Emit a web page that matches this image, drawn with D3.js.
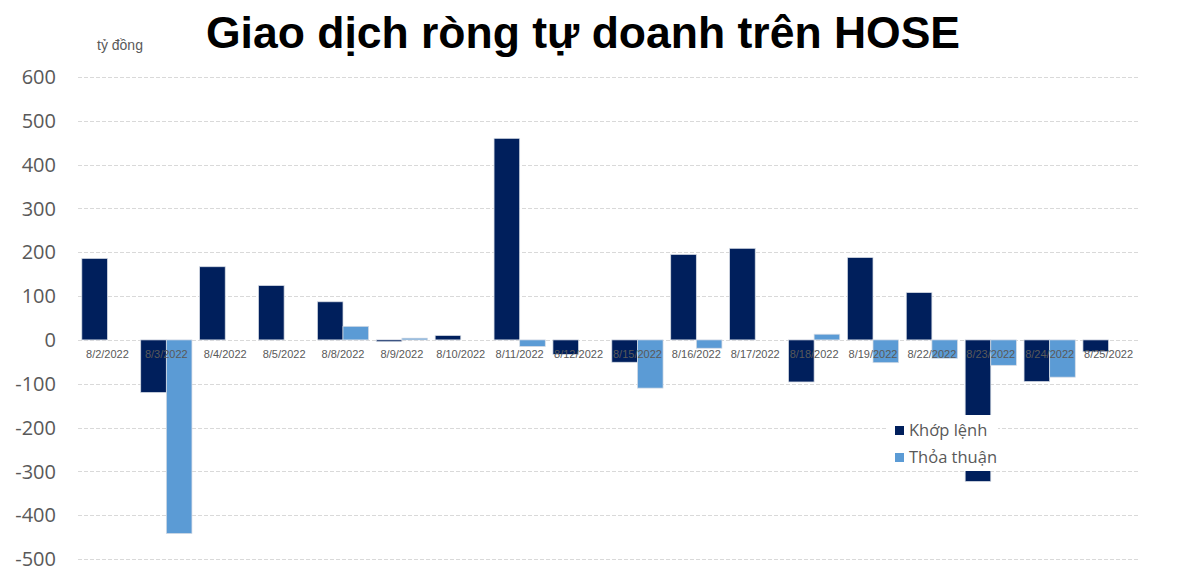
<!DOCTYPE html>
<html>
<head>
<meta charset="utf-8">
<script src="https://cdn.jsdelivr.net/npm/d3@7"></script>
<style>
  body { margin: 0; background: #fff; }
  svg { display: block; font-family: "Liberation Sans", Arial, sans-serif; }
</style>
</head>
<body>
<div id="chart"></div>
<script>
// data
const dates = ["8/2/2022", "8/3/2022", "8/4/2022", "8/5/2022", "8/8/2022", "8/9/2022",
  "8/10/2022", "8/11/2022", "8/12/2022", "8/15/2022", "8/16/2022", "8/17/2022",
  "8/18/2022", "8/19/2022", "8/22/2022", "8/23/2022", "8/24/2022", "8/25/2022"];
const khopLenh = [186, -120, 167, 124, 87, -4, 10, 460, -33, -51, 195, 209, -96, 188, 108, -323, -95, -27];
const thoaThuan = [0, -442, 0, 0, 31, 4, 0, -15, 0, -110, -19, 0, 13, -52, -42, -58, -85, 0];
const seriesNames = ["Khớp lệnh", "Thỏa thuận"];
const yTicks = [600, 500, 400, 300, 200, 100, 0, -100, -200, -300, -400, -500];

const width = 1200, height = 580;
const colors = ["#001F5C", "#5B9BD5"];

const svg = d3.select("#chart").append("svg")
  .attr("width", width)
  .attr("height", height);

const plot = { left: 78, right: 1138, top: 77, bottom: 559 };

const y = d3.scaleLinear()
  .domain([-500, 600])
  .range([plot.bottom, plot.top]);

const x0 = d3.scaleBand()
  .domain(dates)
  .range([plot.left, plot.right]);

const bw = x0.bandwidth();
const x1 = d3.scaleBand()
  .domain([0, 1])
  .range([bw * 0.065, bw * 0.935]);

// title
svg.append("text")
  .attr("x", 583)
  .attr("y", 48)
  .attr("text-anchor", "middle")
  .attr("font-size", 44.5)
  .attr("font-weight", "bold")
  .attr("fill", "#000")
  .text("Giao dịch ròng tự doanh trên HOSE");

svg.append("text")
  .attr("x", 97)
  .attr("y", 50)
  .attr("font-size", 14)
  .attr("fill", "#595959")
  .text("tỷ đồng");

// gridlines
svg.append("g")
  .selectAll("line")
  .data(yTicks)
  .join("line")
  .attr("x1", plot.left)
  .attr("x2", plot.right)
  .attr("y1", d => Math.round(y(d)) + 0.5)
  .attr("y2", d => Math.round(y(d)) + 0.5)
  .attr("stroke", "#D9D9D9")
  .attr("stroke-width", 1)
  .attr("stroke-dasharray", "4,2");

// y axis labels
svg.append("g")
  .selectAll("text")
  .data(yTicks)
  .join("text")
  .attr("x", 56)
  .attr("y", d => y(d))
  .attr("dy", "0.36em")
  .attr("text-anchor", "end")
  .attr("font-family", "'Open Sans', sans-serif")
  .attr("font-size", 20)
  .attr("fill", "#595959")
  .text(d => d);

// bars
const rows = dates.map((d, i) => ({ date: d, values: [khopLenh[i], thoaThuan[i]] }));

const groups = svg.append("g")
  .selectAll("g")
  .data(rows)
  .join("g")
  .attr("transform", d => `translate(${x0(d.date)},0)`);

groups.selectAll("rect")
  .data(d => d.values.map((v, k) => ({ k, v })))
  .join("rect")
  .filter(d => d.v !== 0)
  .attr("x", d => x1(d.k))
  .attr("width", x1.bandwidth())
  .attr("y", d => y(Math.max(0, d.v)))
  .attr("height", d => Math.abs(y(d.v) - y(0)))
  .attr("fill", d => colors[d.k])
  .attr("stroke", "#D6DCE5")
  .attr("stroke-width", 0.75);

// category labels
svg.append("g")
  .selectAll("text")
  .data(dates)
  .join("text")
  .attr("x", d => x0(d) + bw / 2)
  .attr("y", 358)
  .attr("text-anchor", "middle")
  .attr("font-size", 11)
  .attr("fill", "#595959")
  .text(d => d);

// legend
const legend = svg.append("g").attr("transform", "translate(888,415)");
legend.append("rect")
  .attr("width", 110)
  .attr("height", 56)
  .attr("fill", "#fff");

const item = legend.selectAll("g")
  .data(seriesNames)
  .join("g")
  .attr("transform", (d, i) => `translate(0,${15 + i * 27})`);

item.append("rect")
  .attr("x", 7)
  .attr("y", -4)
  .attr("width", 9)
  .attr("height", 9)
  .attr("fill", (d, i) => colors[i]);

item.append("text")
  .attr("x", 21)
  .attr("dy", "0.35em")
  .attr("font-family", "'Open Sans', sans-serif")
  .attr("font-size", 16.5)
  .attr("fill", "#595959")
  .text(d => d);
</script>
</body>
</html>
